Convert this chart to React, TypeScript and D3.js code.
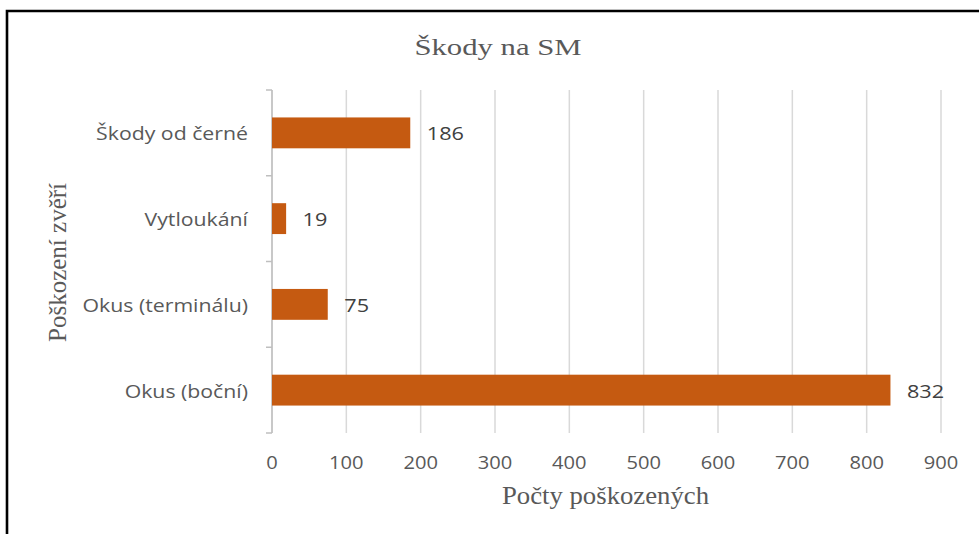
import React from "react";
import * as d3 from "d3";

const categories = ["Škody od černé", "Vytloukání", "Okus (terminálu)", "Okus (boční)"];
const values = [186, 19, 75, 832];
const xTicks = [0, 100, 200, 300, 400, 500, 600, 700, 800, 900];
const title = "Škody na SM";
const xTitle = "Počty poškozených";
const yTitle = "Poškození zvěří";

const W = 979;
const H = 534;
const plot = { left: 272, right: 941, top: 90, bottom: 433 };

function T(props: {
  x: number;
  y: number;
  sx: number;
  anchor?: "start" | "middle" | "end";
  family: string;
  size: number;
  fill: string;
  children: React.ReactNode;
  central?: boolean;
}) {
  return (
    <text
      transform={`translate(${props.x},${props.y}) scale(${props.sx},1)`}
      textAnchor={props.anchor || "start"}
      dominantBaseline={props.central ? "central" : undefined}
      fontFamily={props.family}
      fontSize={props.size}
      fill={props.fill}
    >
      {props.children}
    </text>
  );
}

export default function App() {
  const x = d3.scaleLinear().domain([0, 900]).range([plot.left, plot.right]);
  const pad = 0.64;
  const y = d3
    .scaleBand<string>()
    .domain(categories)
    .range([plot.top, plot.bottom])
    .paddingInner(pad)
    .paddingOuter(pad / 2);
  const step = y.step();
  const boundaries = d3.range(categories.length + 1).map((i) => plot.top + i * step);

  const sans = "'Open Sans', 'Noto Sans', sans-serif";
  const serif = "'Liberation Serif', 'DejaVu Serif', serif";
  const textColor = "#595959";

  return (
    <svg
      width={W}
      height={H}
      style={{ position: "absolute", left: 0, top: 0, background: "#fff" }}
    >
      <rect x={0} y={0} width={W} height={H} fill="#fff" />
      <path d={`M7,${H + 5} L7,11 L${W + 5},11`} fill="none" stroke="#000" strokeWidth={2.6} />

      <T x={498} y={55} sx={1.28} anchor="middle" family={serif} size={24} fill={textColor}>
        {title}
      </T>

      {xTicks.map((t) => (
        <line
          key={"g" + t}
          x1={x(t)}
          x2={x(t)}
          y1={plot.top}
          y2={plot.bottom}
          stroke="#d9d9d9"
          strokeWidth={1.5}
        />
      ))}

      <line x1={plot.left} x2={plot.left} y1={plot.top} y2={plot.bottom} stroke="#bfbfbf" strokeWidth={1.5} />
      {boundaries.map((b, i) => (
        <line key={"t" + i} x1={plot.left - 6} x2={plot.left} y1={b} y2={b} stroke="#bfbfbf" strokeWidth={1.5} />
      ))}

      {categories.map((c, i) => (
        <g key={c}>
          <rect
            x={x(0)}
            y={y(c)!}
            width={x(values[i]) - x(0)}
            height={y.bandwidth()}
            fill="#C55A11"
          />
          <T
            x={x(values[i]) + 16.5}
            y={y(c)! + y.bandwidth() / 2}
            sx={1.14}
            central
            family={sans}
            size={19}
            fill="#404040"
          >
            {values[i]}
          </T>
          <T
            x={248}
            y={y(c)! + y.bandwidth() / 2}
            sx={1.12}
            central
            anchor="end"
            family={sans}
            size={19}
            fill={textColor}
          >
            {c}
          </T>
        </g>
      ))}

      {xTicks.map((t) => (
        <T key={"l" + t} x={x(t)} y={463} sx={1.15} central anchor="middle" family={sans} size={17.5} fill={textColor}>
          {t}
        </T>
      ))}

      <T x={605.5} y={504} sx={1.07} anchor="middle" family={serif} size={25} fill={textColor}>
        {xTitle}
      </T>

      <text
        transform={`translate(66, 262.5) rotate(-90)`}
        textAnchor="middle"
        fontFamily={serif}
        fontSize={25}
        fill={textColor}
      >
        {yTitle}
      </text>
    </svg>
  );
}
